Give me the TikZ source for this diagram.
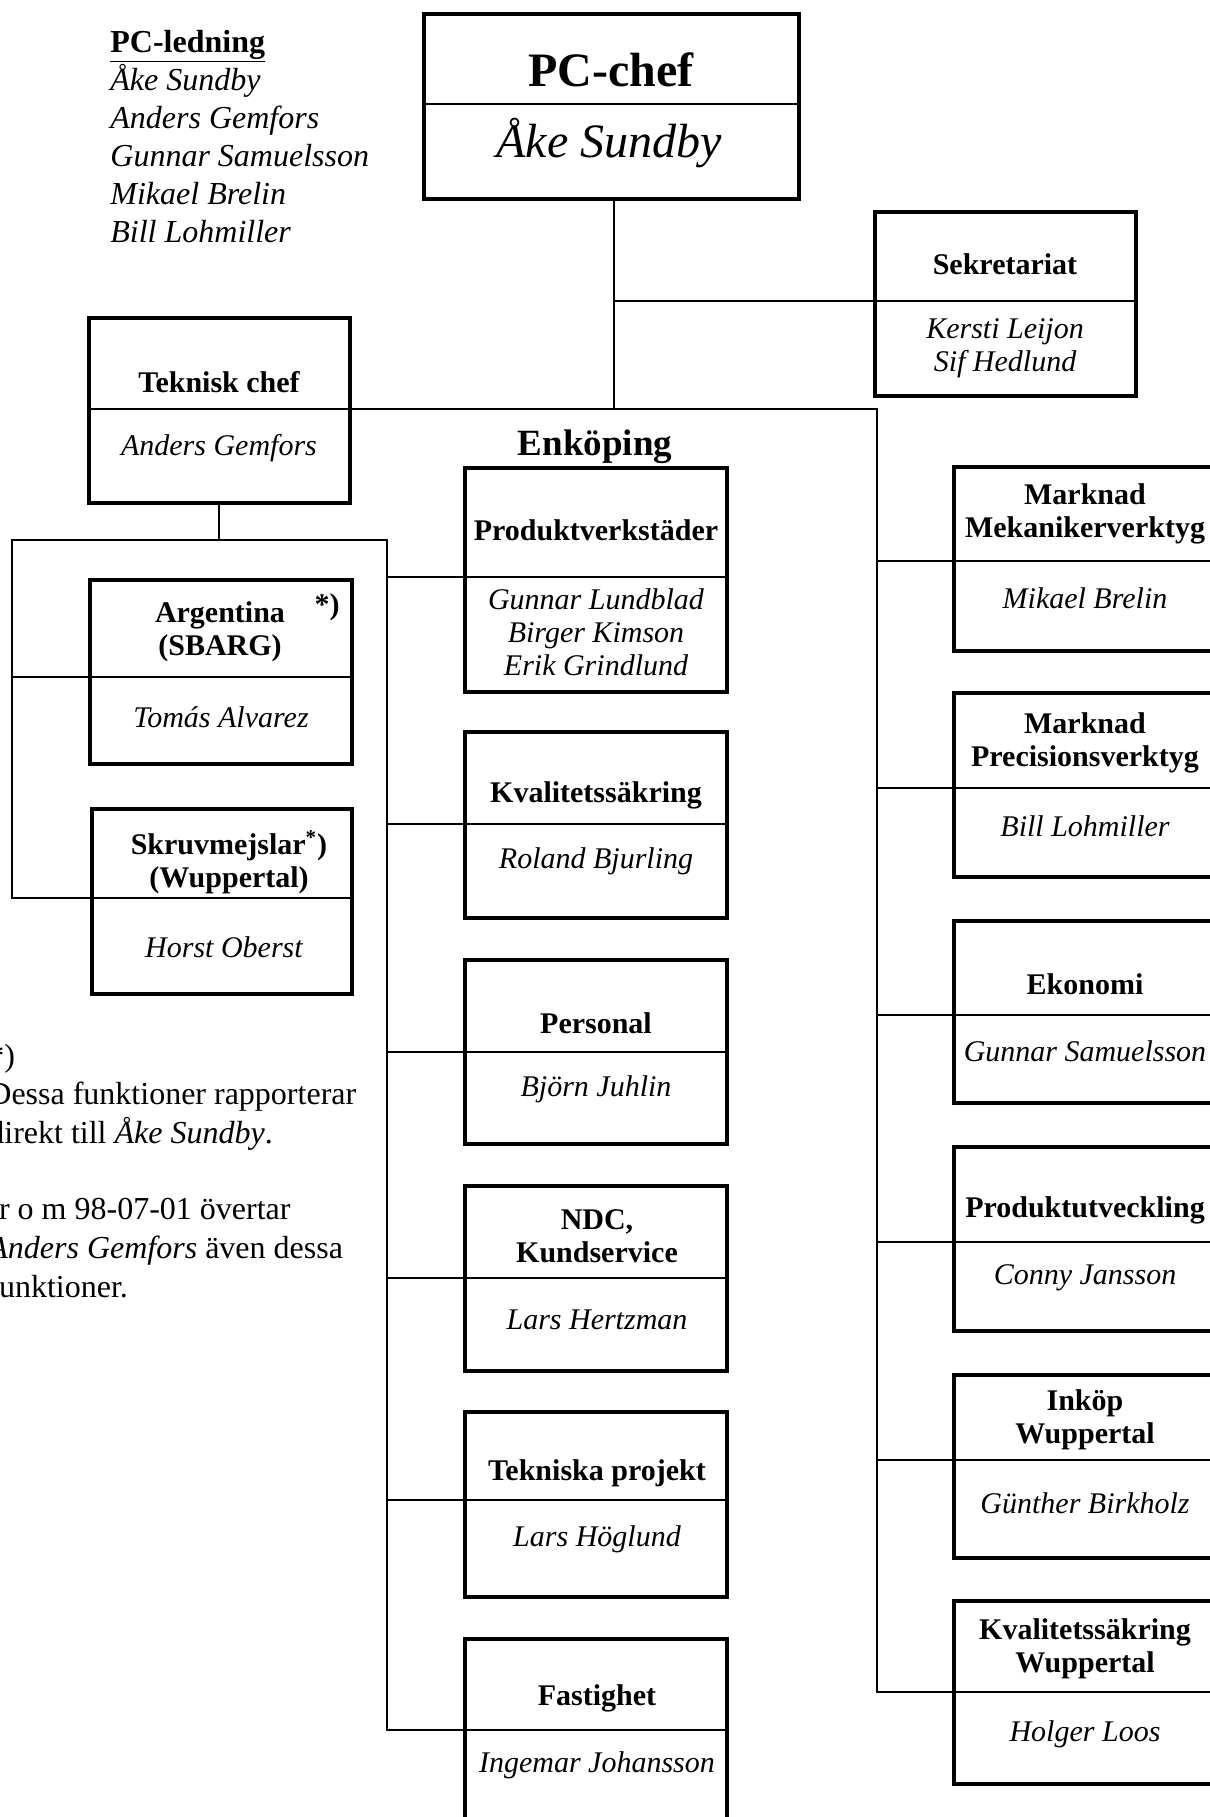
\documentclass[tikz,border=0pt]{standalone}
\usepackage{fontspec}
\setmainfont{Liberation Serif}
\newcommand{\ttlfont}{\fontsize{15}{16.5}\selectfont\bfseries}
\newcommand{\prsfont}{\fontsize{15}{16.5}\selectfont\itshape}
\newcommand{\orgbox}[6]{%
  \node[boxframe, minimum width={(#4-#2)*0.5pt}, minimum height={(#5-#3)*0.5pt}] (#1) at ({(#2+#4)/2},{(#3+#5)/2}) {};
  \coordinate (#1-dl) at (#2,#6);
  \coordinate (#1-dr) at (#4,#6);
  \draw[divider] (#1-dl) -- (#1-dr);
}
\begin{document}
\begin{tikzpicture}[x=0.5pt,y=-0.5pt,
  boxframe/.style={draw=black, line width=2pt, rectangle, inner sep=0pt, outer sep=0pt, fill=white},
  divider/.style={line width=1pt},
  conn/.style={line width=1.2pt},
  ttl/.style={font=\ttlfont, align=center, inner sep=0pt, yshift=-1pt},
  prs/.style={font=\prsfont, align=center, inner sep=0pt, yshift=-1pt},
  lst/.style={font=\fontsize{16}{19}\selectfont\itshape, anchor=base west, inner sep=0pt},
  fnt/.style={font=\fontsize{16}{19.5}\selectfont, anchor=base west, inner sep=0pt},
]
\useasboundingbox (0,0) rectangle (1210,1817);
\clip (0,0) rectangle (1210,1817);
\fill[white] (0,0) rectangle (1210,1817);

% boxes
\orgbox{pc}{424}{14}{799}{199}{104}
\orgbox{sek}{875}{212}{1136}{396}{301}
\orgbox{tk}{89}{318}{350}{503}{409}
\orgbox{arg}{90}{580}{352}{764}{677}
\orgbox{skr}{92}{809}{352}{994}{898}
\orgbox{pv}{465}{468}{727}{692}{577}
\orgbox{kv}{465}{732}{727}{918}{824}
\orgbox{per}{465}{960}{727}{1144}{1052}
\orgbox{ndc}{465}{1186}{727}{1371}{1278}
\orgbox{tp}{465}{1412}{727}{1597}{1500}
\orgbox{fas}{465}{1639}{727}{1850}{1730}
\orgbox{mek}{954}{467}{1215}{651}{561}
\orgbox{pre}{954}{693}{1215}{877}{788}
\orgbox{eko}{954}{921}{1215}{1103}{1015}
\orgbox{pu}{954}{1147}{1215}{1331}{1242}
\orgbox{ink}{954}{1375}{1215}{1558}{1460}
\orgbox{kvw}{954}{1601}{1215}{1784}{1692}

% bus coordinates
\coordinate (j1) at (614,409);
\coordinate (rbus) at (877,0);
\coordinate (lbus) at (12,0);
\coordinate (mbus) at (387,0);
\coordinate (h2) at (219,540);

% connectors
\draw[conn] (j1 |- pc.south) -- (j1);
\draw[conn] (j1 |- sek-dl) -- (sek-dl);
\draw[conn] (tk-dr) -- (rbus |- tk-dr) -- (rbus |- kvw-dl) -- (kvw-dl);
\foreach \b in {mek,pre,eko,pu,ink}{\draw[conn] (rbus |- \b-dl) -- (\b-dl);}
\draw[conn] (h2 |- tk.south) -- (h2);
\draw[conn] (skr-dl) -- (lbus |- skr-dl) -- (lbus |- h2) -- (mbus |- h2) -- (mbus |- fas-dl) -- (fas-dl);
\draw[conn] (lbus |- arg-dl) -- (arg-dl);
\foreach \b in {pv,kv,per,ndc,tp}{\draw[conn] (mbus |- \b-dl) -- (\b-dl);}

% top texts
\node[font=\fontsize{24}{26}\selectfont\bfseries, inner sep=0pt] (pc-t) at (611,70) {PC-chef};
\node[font=\fontsize{24}{26}\selectfont\itshape, inner sep=0pt] (pc-n) at (609,143) {Åke Sundby};

\node[font=\fontsize{16}{19}\selectfont\bfseries, anchor=base west, inner sep=0pt] (led0) at (110,52) {\underline{PC-ledning}};
\node[lst] (led1) at (110,90) {Åke Sundby};
\node[lst] (led2) at (110,128) {Anders Gemfors};
\node[lst] (led3) at (110,166) {Gunnar Samuelsson};
\node[lst] (led4) at (110,204) {Mikael Brelin};
\node[lst] (led5) at (110,242) {Bill Lohmiller};

\node[font=\fontsize{18.5}{20}\selectfont\bfseries, inner sep=0pt] (enk) at (595,447) {Enköping};

% box texts
\node[ttl] (sek-t) at (1005,262) {Sekretariat};
\node[prs] (sek-n) at (1005,346) {Kersti Leijon\\Sif Hedlund};

\node[ttl] (tk-t) at (219,380) {Teknisk chef};
\node[prs] (tk-n) at (219,446) {Anders Gemfors};

\node[ttl] (arg-t) at (220,630) {Argentina\\(SBARG)};
\node[ttl] (arg-s) at (327,605) {*)};
\node[prs] (arg-n) at (221,715) {Tomás Alvarez};

\node[ttl] (skr-t) at (229,860) {Skruvmejslar\textsuperscript{*})\\(Wuppertal)};
\node[prs] (skr-n) at (224,945) {Horst Oberst};

\node[ttl] (pv-t) at (596,528) {Produktverkstäder};
\node[prs] (pv-n) at (596,630) {Gunnar Lundblad\\Birger Kimson\\Erik Grindlund};

\node[ttl] (kv-t) at (596,793) {Kvalitetssäkring};
\node[prs] (kv-n) at (596,859) {Roland Bjurling};

\node[ttl] (per-t) at (596,1021) {Personal};
\node[prs] (per-n) at (596,1087) {Björn Juhlin};

\node[ttl] (ndc-t) at (597,1234) {NDC,\\Kundservice};
\node[prs] (ndc-n) at (597,1318) {Lars Hertzman};

\node[ttl] (tp-t) at (597,1471) {Tekniska projekt};
\node[prs] (tp-n) at (597,1537) {Lars Höglund};

\node[ttl] (fas-t) at (597,1696) {Fastighet};
\node[prs] (fas-n) at (597,1763) {Ingemar Johansson};

\node[ttl] (mek-t) at (1085,512) {Marknad\\Mekanikerverktyg};
\node[prs] (mek-n) at (1085,596) {Mikael Brelin};

\node[ttl] (pre-t) at (1085,741) {Marknad\\Precisionsverktyg};
\node[prs] (pre-n) at (1085,824) {Bill Lohmiller};

\node[ttl] (eko-t) at (1085,982) {Ekonomi};
\node[prs] (eko-n) at (1085,1049) {Gunnar Samuelsson};

\node[ttl] (pu-t) at (1085,1208) {Produktutveckling};
\node[prs] (pu-n) at (1085,1276) {Conny Jansson};

\node[ttl] (ink-t) at (1085,1418) {Inköp\\Wuppertal};
\node[prs] (ink-n) at (1085,1501) {Günther Birkholz};

\node[ttl] (kvw-t) at (1085,1647) {Kvalitetssäkring\\Wuppertal};
\node[prs] (kvw-n) at (1085,1732) {Holger Loos};

% footnote
\node[fnt] (fn0) at (-12,1066) {*)};
\node[fnt] (fn1) at (-12,1104) {Dessa funktioner rapporterar};
\node[fnt] (fn2) at (-12,1143) {direkt till \textit{Åke Sundby}.};
\node[fnt] (fn3) at (-12,1219) {fr o m 98-07-01 övertar};
\node[fnt] (fn4) at (-12,1258) {\textit{Anders Gemfors} även dessa};
\node[fnt] (fn5) at (-12,1297) {funktioner.};
\end{tikzpicture}
\end{document}
